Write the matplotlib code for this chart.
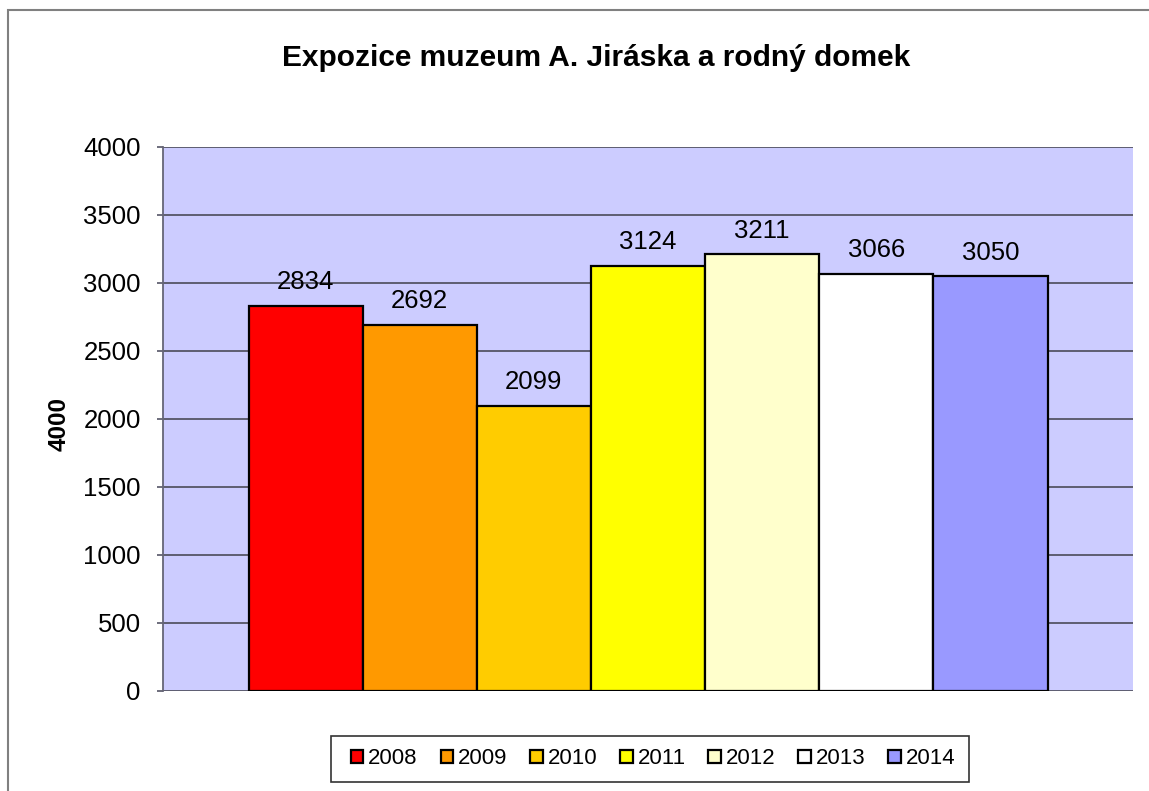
import matplotlib
matplotlib.use("Agg")
import matplotlib.pyplot as plt
from matplotlib.patches import Rectangle, Patch
import numpy as np

plt.rcParams['font.family'] = ['Liberation Sans', 'DejaVu Sans']

years = ["2008", "2009", "2010", "2011", "2012", "2013", "2014"]
values = [2834, 2692, 2099, 3124, 3211, 3066, 3050]
colors = ["#FF0000", "#FF9900", "#FFCC00", "#FFFF00", "#FFFFCC", "#FFFFFF", "#9999FF"]
yticks = [0, 500, 1000, 1500, 2000, 2500, 3000, 3500, 4000]
title = "Expozice muzeum A. Jiráska a rodný domek"
ylabel = "4000"

W, H = 1149, 791
fig = plt.figure(figsize=(W/100, H/100), dpi=100)
fig.patch.set_facecolor("white")
fig.patches.append(Rectangle((8/W, -0.05), 1.2, 1 - 10/H + 0.05, transform=fig.transFigure,
                             fill=False, edgecolor="#808080", linewidth=1.5))

ax = fig.add_axes([163/W, 1 - 691/H, (1133-163)/W, (691-147)/H])
ax.set_facecolor("#CCCCFF")

n = len(values)
group = 799/970
bw = group / n
xs = -group/2 + bw/2 + np.arange(n)*bw
ax.set_xlim(-0.5, 0.5)
ax.set_ylim(0, 4000)
ax.set_yticks(yticks)
ax.yaxis.grid(True, color="#555566", linewidth=1.3)
ax.set_axisbelow(True)
ax.set_xticks([])

ax.bar(xs, values, width=bw, color=colors, edgecolor="black", linewidth=1.6, zorder=3)
for x, v in zip(xs, values):
    ax.annotate(str(v), (x, v), xytext=(0, 12), textcoords="offset points",
                ha="center", va="baseline", fontsize=18.5, color="black", zorder=4)

for s in ["top", "right", "bottom"]:
    ax.spines[s].set_visible(False)
ax.spines["left"].set_color("#666677")
ax.spines["left"].set_linewidth(1.3)
ax.tick_params(axis="y", length=4.5, width=1.2, color="#555566", labelsize=18.5, pad=11.5)

fig.text(59/W, 1 - 424/H, ylabel, ha="center", va="center", rotation=90,
         fontsize=17.5, fontweight="bold")

fig.text(596/W, 1 - 66/H, title, ha="center", va="baseline", fontsize=21.5, fontweight="bold")

handles = [Patch(facecolor=c, edgecolor="black", linewidth=1.6) for c in colors]
leg = fig.legend(handles, years, loc="center", bbox_to_anchor=(653/W, 1 - 759/H), ncol=n,
                 fontsize=16, frameon=False, handlelength=0.56, handleheight=0.56,
                 handletextpad=0.22, columnspacing=1.03, borderpad=0.0)
fig.patches.append(Rectangle((331/W, 1 - 782/H), (969-331)/W, (782-736)/H,
                             transform=fig.transFigure, fill=False,
                             edgecolor="#333333", linewidth=1.2))

fig.savefig("out.png", dpi=100)
